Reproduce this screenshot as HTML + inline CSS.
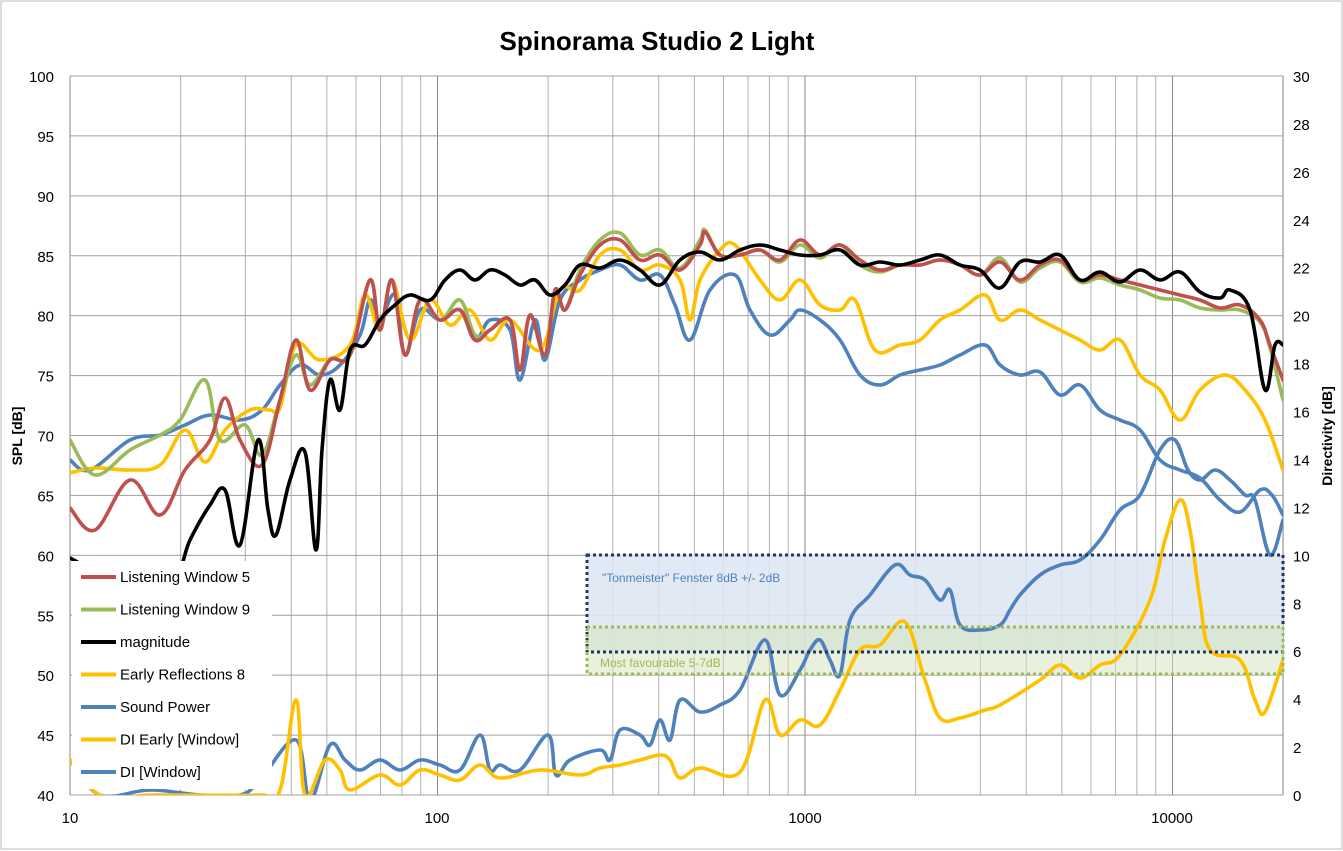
<!DOCTYPE html>
<html><head><meta charset="utf-8"><style>
body{margin:0;background:#fff;}
svg{display:block;font-family:"Liberation Sans",sans-serif;}
</style></head><body>
<svg id="s" width="1343" height="851" viewBox="0 0 1343 851" xmlns="http://www.w3.org/2000/svg">
<rect width="1343" height="851" fill="#fff"/>
<rect x="1" y="1" width="1341" height="848" fill="none" stroke="#bbb"/>
<text x="657" y="50" font-size="26" font-weight="bold" text-anchor="middle">Spinorama Studio 2 Light</text>
<g id="grid"></g>
<defs><clipPath id="c"><rect x="70" y="76" width="1213" height="719"/></clipPath></defs>
<rect x="587" y="555" width="696" height="97" fill="#dce6f2" opacity="0.85"/>
<rect x="587" y="627" width="696" height="47" fill="#d7e4bd" opacity="0.55"/>
<g id="curves" clip-path="url(#c)" fill="none" stroke-width="3.6" stroke-linejoin="round" stroke-linecap="round"></g>
<rect x="587" y="555" width="696" height="97" fill="none" stroke="#1f3864" stroke-width="3" stroke-dasharray="3,3"/>
<rect x="587" y="627" width="696" height="47" fill="none" stroke="#9bbb59" stroke-width="3" stroke-dasharray="3,3"/>
<text x="602" y="582" font-size="12" fill="#4f81bd">"Tonmeister"  Fenster 8dB +/- 2dB</text>
<text x="600" y="667" font-size="12" fill="#9bbb59">Most favourable 5-7dB</text>
<rect x="72" y="561" width="200" height="228" fill="#fff"/>
<g id="leg" font-size="15"></g>
<text transform="translate(22,436) rotate(-90)" font-size="14" font-weight="bold" text-anchor="middle">SPL [dB]</text>
<text transform="translate(1332,436) rotate(-90)" font-size="14" font-weight="bold" text-anchor="middle">Directivity [dB]</text>
</svg>
<script>
const NS="http://www.w3.org/2000/svg";
function el(p,t,a,txt){const e=document.createElementNS(NS,t);for(const k in a)e.setAttribute(k,a[k]);if(txt!==undefined)e.textContent=txt;p.appendChild(e);return e;}
const g=document.getElementById('grid');
const X=f=>70+Math.log10(f/10)*367.5;
const Y=v=>795-(v-40)*719/60;
for(let d=10;d<=10000;d*=10)for(let m=1;m<=9;m++){const f=d*m;if(f>20000)break;const x=X(f);
 el(g,'line',{x1:x,x2:x,y1:76,y2:795,stroke:m==1?'#888':'#b0b0b0','stroke-width':1});}
el(g,'line',{x1:1283,x2:1283,y1:76,y2:795,stroke:'#888'});
for(let v=40;v<=100;v+=5){const y=Y(v);el(g,'line',{x1:70,x2:1283,y1:y,y2:y,stroke:'#a0a0a0'});
 el(g,'text',{x:54,y:y+6,'font-size':15,'text-anchor':'end'},v);}
for(let v=0;v<=30;v+=2){const y=795-v*719/30;el(g,'text',{x:1293,y:y+6,'font-size':15},v);}
[[10,70],[100,437],[1000,805],[10000,1172]].forEach(a=>el(g,'text',{x:a[1],y:823,'font-size':15,'text-anchor':'middle'},a[0]));
const C=document.getElementById('curves');
function P(s,col){const p=s.trim().split(/\s+/).map(q=>q.split(',').map(Number));
 let d='M'+p[0][0]+','+p[0][1];
 for(let i=0;i<p.length-1;i++){const p0=p[Math.max(0,i-1)],p1=p[i],p2=p[i+1],p3=p[Math.min(p.length-1,i+2)];
  const t=0.18;
  d+=' C'+(p1[0]+(p2[0]-p0[0])*t)+','+(p1[1]+(p2[1]-p0[1])*t)+' '+(p2[0]-(p3[0]-p1[0])*t)+','+(p2[1]-(p3[1]-p1[1])*t)+' '+p2[0]+','+p2[1];}
 el(C,'path',{d:d,stroke:col});}
const DIW="70,760 100,795 150,790 200,795 240,795 260,780 296,740 310,800 330,745 345,760 360,770 380,760 400,770 420,760 440,765 460,770 480,735 490,770 500,765 520,770 548,735 556,775 570,760 600,750 610,760 620,730 640,735 650,745 660,720 670,740 680,700 700,712 720,705 740,690 765,640 780,695 800,670 810,650 820,640 830,660 840,675 850,620 870,595 895,565 910,575 925,580 940,600 950,590 960,625 980,630 1000,625 1010,610 1020,595 1040,575 1060,565 1080,560 1100,540 1120,510 1140,495 1160,450 1175,440 1188,470 1200,480 1215,470 1230,480 1245,495 1255,500 1270,555 1283,520";
const DIE="70,760 100,795 150,795 200,795 260,795 280,790 296,700 305,795 325,760 340,770 350,790 380,775 400,785 420,770 440,775 460,780 480,765 500,778 540,770 580,775 600,768 620,765 640,760 660,755 670,760 680,778 700,768 740,772 765,700 780,735 800,720 820,725 840,690 860,650 880,645 905,622 925,680 940,718 960,718 985,710 1000,705 1040,680 1060,665 1080,678 1100,665 1120,655 1150,600 1165,540 1180,500 1190,530 1200,600 1210,650 1240,660 1255,700 1265,712 1283,660";
const SP="70,460 90,470 130,440 160,435 185,425 210,415 240,420 262,410 280,385 300,365 320,375 340,365 360,335 370,300 380,320 395,295 405,355 420,310 440,320 460,310 475,340 490,320 510,330 520,380 535,320 545,360 560,300 580,280 600,270 620,265 640,280 660,275 675,305 690,340 710,290 735,275 750,310 770,335 790,320 800,310 820,320 840,340 860,375 880,385 900,375 920,370 940,365 960,355 985,345 1000,365 1020,375 1040,372 1060,395 1080,385 1100,410 1120,420 1140,430 1160,460 1180,470 1200,478 1220,500 1240,512 1260,490 1272,495 1283,515";
const ER="70,473 95,468 130,470 160,465 185,430 205,462 225,430 250,410 270,410 280,408 296,345 320,360 350,345 365,295 380,330 392,280 410,340 430,300 450,325 470,310 490,340 510,320 540,350 560,290 580,290 600,255 620,250 640,270 660,265 680,280 690,320 700,280 720,250 735,245 760,280 780,300 800,280 820,305 840,310 855,300 875,350 900,345 920,340 940,320 960,310 985,295 1000,320 1020,310 1040,320 1060,330 1080,340 1100,350 1120,340 1140,375 1160,390 1180,420 1200,390 1225,375 1245,390 1265,420 1283,470";
const BK="70,558 100,572 140,575 175,575 190,540 210,505 225,490 240,545 258,440 268,510 276,535 290,480 305,452 316,550 322,450 330,380 340,410 350,350 365,345 380,320 395,305 410,295 430,300 445,280 460,270 475,280 490,270 505,275 520,285 535,280 550,295 565,285 580,265 600,268 620,260 640,270 660,285 680,260 700,252 720,260 740,250 760,245 780,250 800,255 820,255 840,250 860,265 880,262 900,265 920,260 940,255 960,265 980,270 1000,288 1020,262 1040,262 1060,255 1080,280 1100,272 1120,282 1140,270 1160,280 1180,272 1200,292 1220,298 1230,290 1250,310 1265,390 1275,345 1283,345";
const LW5="70,508 95,530 130,480 160,515 185,470 210,440 225,398 240,440 262,465 280,400 296,340 310,390 330,360 350,355 370,280 380,330 392,280 405,355 420,300 440,320 460,310 475,340 490,330 510,320 520,370 530,315 545,355 555,290 565,310 580,275 600,245 620,240 640,260 660,255 680,270 700,245 705,232 720,255 740,255 760,250 780,260 800,240 820,255 840,245 860,260 880,270 900,265 920,265 940,260 960,265 980,275 1000,262 1020,280 1040,265 1060,260 1080,280 1100,275 1120,280 1140,285 1160,290 1180,295 1200,300 1220,308 1240,305 1260,320 1270,345 1283,380";
const LW9="70,440 95,475 130,450 160,435 180,420 205,380 220,440 245,425 262,455 280,400 296,355 310,385 330,360 350,355 370,280 380,330 392,280 405,355 420,300 440,320 460,300 475,335 490,330 510,320 520,370 530,315 545,355 555,290 565,310 580,270 600,240 620,233 640,255 660,250 680,268 700,240 705,230 720,255 740,255 760,250 780,262 800,245 820,258 840,245 860,265 880,272 900,265 920,265 940,260 960,265 980,275 1000,258 1020,282 1040,268 1060,262 1080,282 1100,278 1120,285 1140,290 1160,298 1180,300 1200,308 1220,310 1240,310 1260,322 1270,348 1283,400";
P(DIW,'#4f81bd');P(DIE,'#ffc000');P(SP,'#4f81bd');P(ER,'#ffc000');P(LW9,'#9bbb59');P(LW5,'#c0504d');P(BK,'#000');
const L=document.getElementById('leg');
[['Listening Window 5','#c0504d'],['Listening Window 9','#9bbb59'],['magnitude','#000'],['Early Reflections 8','#ffc000'],['Sound Power','#4f81bd'],['DI Early [Window]','#ffc000'],['DI [Window]','#4f81bd']].forEach((a,i)=>{
 const y=577+i*32.5;el(L,'line',{x1:81,x2:116,y1:y,y2:y,stroke:a[1],'stroke-width':4});
 el(L,'text',{x:120,y:y+5},a[0]);});
</script>
</body></html>
